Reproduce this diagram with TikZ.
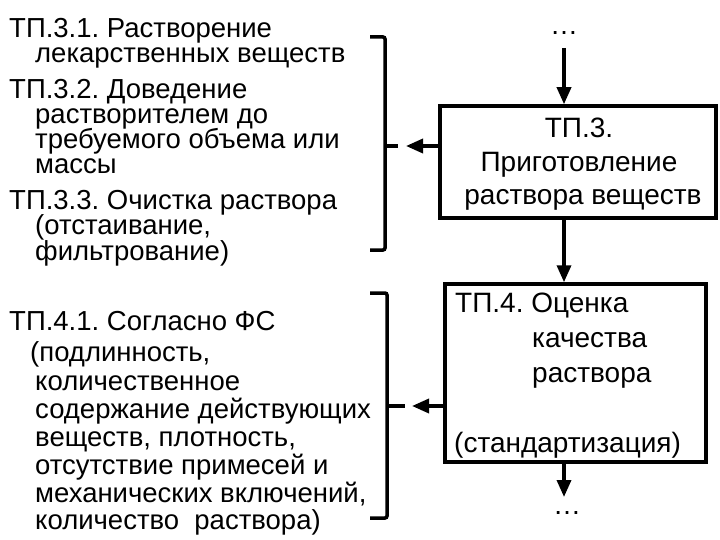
\documentclass[tikz,border=0pt]{standalone}
\usepackage{fontspec}
\setmainfont{Liberation Sans}
\usetikzlibrary{arrows.meta}
\begin{document}
\frenchspacing
\begin{tikzpicture}[x=1pt,y=-1pt,
  lt/.style={anchor=base west, inner sep=0pt, font=\fontsize{27.5}{30}\selectfont},
  bt/.style={anchor=base west, inner sep=0pt, font=\fontsize{28}{34}\selectfont},
  ct/.style={anchor=base, inner sep=0pt, font=\fontsize{28}{34}\selectfont},
  boxst/.style={draw, line width=3.5pt, inner sep=0pt},
  arr/.style={line width=3.5pt, -{Triangle[length=17pt,width=14pt]}},
  brk/.style={line width=3.5pt, rounded corners=2pt},
  dots/.style={anchor=base, inner sep=0pt, font=\fontsize{28}{34}\selectfont}]
\useasboundingbox (0,0) rectangle (720,540);

% left text, upper group
\node[lt] (l1) at (9,38)  {ТП.3.1. Растворение};
\node[lt] (l2) at (35,63) {лекарственных веществ};
\node[lt] (l3) at (9,99)  {ТП.3.2. Доведение};
\node[lt] (l4) at (35,124) {растворителем до};
\node[lt] (l5) at (35,149) {требуемого объема или};
\node[lt] (l6) at (35,174) {массы};
\node[lt] (l7) at (9,210) {ТП.3.3. Очистка раствора};
\node[lt] (l8) at (35,235) {(отстаивание,};
\node[lt] (l9) at (35,260) {фильтрование)};

% left text, lower group
\node[lt] (m1) at (9,330) {ТП.4.1. Согласно ФС};
\node[lt] (m2) at (30,361) {(подлинность,};
\node[lt] (m3) at (35,390) {количественное};
\node[lt] (m4) at (35,418) {содержание действующих};
\node[lt] (m5) at (35,446) {веществ, плотность,};
\node[lt] (m6) at (35,474) {отсутствие примесей и};
\node[lt] (m7) at (35,502) {механических включений,};
\node[lt] (m8) at (35,529) {количество\ \ раствора)};

% boxes
\node[boxst, minimum width=276pt, minimum height=112pt] (box3) at (578,162) {};
\node[ct] (c1) at (579,138) {ТП.3.};
\node[ct] (c2) at (579,172) {Приготовление};
\node[ct] (c3) at (583,205) {раствора веществ};
\node[boxst, minimum width=261pt, minimum height=178pt] (box4) at (575.5,373) {};
\node[bt] (b1) at (455,312) {ТП.4. Оценка};
\node[bt] (b2) at (532,347) {качества};
\node[bt] (b3) at (532,382) {раствора};
\node[bt] (b4) at (454,452) {(стандартизация)};

% dots
\node[dots] (d1) at (564,35) {…};
\node[dots] (d2) at (567,514) {…};

% vertical arrows
\coordinate (a1) at (564,48);
\draw[arr] (a1) -- (a1 |- box3.north);
\draw[arr] (box3.south -| a1) -- (box4.north -| a1);
\coordinate (a3) at (564,497);
\draw[arr] (box4.south -| a3) -- (a3);

% brackets
\coordinate (k1) at (398,146);
\coordinate (k2) at (405,406);
\draw[brk] (370,37) -- (385,37) -- (385,250) -- (370,250);
\draw[brk] (385,146) -- (k1);
\draw[brk] (370,293) -- (387,293) -- (387,518) -- (370,518);
\draw[brk] (387,406) -- (k2);

% horizontal arrows
\draw[arr] (box3.west |- k1) -- ([xshift=8pt]k1);
\draw[arr] (box4.west |- k2) -- ([xshift=7pt]k2);
\end{tikzpicture}
\end{document}
